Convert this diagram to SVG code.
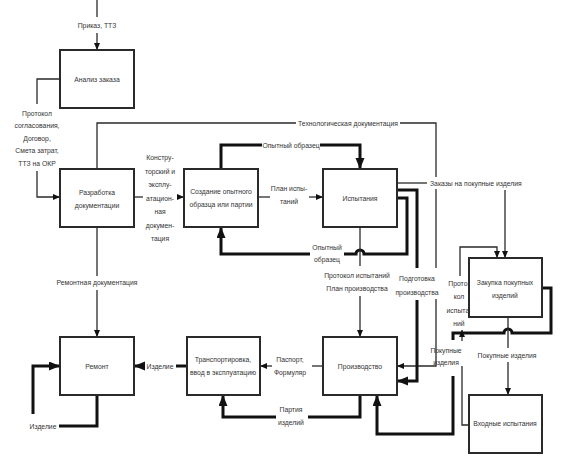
<svg xmlns="http://www.w3.org/2000/svg" width="567" height="457" viewBox="0 0 567 457">
<style>
.box{fill:#fff;stroke:#2a2a2a;stroke-width:2}
.t{font-family:"Liberation Sans",Arial,sans-serif;font-size:6.8px;fill:#333;text-anchor:middle}
.s{text-anchor:start}
.thin{fill:none;stroke:#2a2a2a;stroke-width:1.3}
.thick{fill:none;stroke:#111;stroke-width:3}
</style>
<defs>
<marker id="a" markerUnits="userSpaceOnUse" markerWidth="8" markerHeight="7" refX="7" refY="3" orient="auto"><path d="M0,0 L7,3 L0,6 z" fill="#111"/></marker>
<marker id="A" markerUnits="userSpaceOnUse" markerWidth="12" markerHeight="10" refX="11" refY="4.5" orient="auto"><path d="M0,0 L11,4.5 L0,9 z" fill="#111"/></marker>
</defs>
<rect width="567" height="457" fill="#fff"/>

<g id="connectors">
<path class="thin" d="M97,0 V17"/>
<text class="t" x="97" y="27.5">Приказ, ТТЗ</text>
<path class="thin" d="M97,33 V50" marker-end="url(#a)"/>

<path class="thin" d="M60,79 H37 V104"/>
<text class="t" x="37" y="115.5">Протокол</text>
<text class="t" x="37" y="128">согласования,</text>
<text class="t" x="37" y="140.5">Договор,</text>
<text class="t" x="37" y="153">Смета затрат,</text>
<text class="t" x="37" y="165.5">ТТЗ на ОКР</text>
<path class="thin" d="M37,171 V197 H60" marker-end="url(#a)"/>

<path class="thin" d="M97,169 V123 H296"/>
<text class="t" x="348" y="125.5">Технологическая документация</text>
<path class="thin" d="M400,123 H436 V177"/>
<path class="thin" d="M436,189 V268"/>
<path class="thin" d="M436,299 V366 H397" marker-end="url(#a)"/>

<path class="thin" d="M134,197 H143"/>
<text class="t" x="160" y="160">Констру-</text>
<text class="t" x="160" y="173.5">торский и</text>
<text class="t" x="160" y="187">эксплу-</text>
<text class="t" x="160" y="200.5">атацион-</text>
<text class="t" x="160" y="214">ная</text>
<text class="t" x="160" y="227.5">докумен-</text>
<text class="t" x="160" y="241">тация</text>
<path class="thin" d="M177,197 H184" marker-end="url(#a)"/>

<path class="thin" d="M258,197 H270"/>
<text class="t" x="289" y="191">План испы-</text>
<text class="t" x="289" y="204">таний</text>
<path class="thin" d="M309,197 H323" marker-end="url(#a)"/>

<path class="thick" d="M221,169 V145 H262"/>
<text class="t" x="291" y="147.5">Опытный образец</text>
<path class="thick" d="M320,145 H360 V169" marker-end="url(#A)"/>

<path class="thick" d="M397,198 H407 V254 H364 A4,4 0 0 0 356,254 H344"/>
<text class="t" x="327" y="250">Опытный</text>
<text class="t" x="327" y="262">образец</text>
<path class="thick" d="M310,254 H221 V227" marker-end="url(#A)"/>

<path class="thin" d="M360,227 V266"/>
<text class="t" x="357" y="277.5">Протокол испытаний</text>
<text class="t" x="357" y="290.5">План производства</text>
<path class="thin" d="M360,296 V337" marker-end="url(#a)"/>

<path class="thick" d="M397,190 H417 V268"/>
<text class="t" x="417" y="281">Подготовка</text>
<text class="t" x="417" y="294.5">производства</text>
<path class="thick" d="M417,300 V381 H397" marker-end="url(#A)"/>

<path class="thin" d="M397,183 H427"/>
<text class="t s" x="430" y="185.5">Заказы на покупные изделия</text>
<path class="thin" d="M505,190 V258" marker-end="url(#a)"/>

<path class="thin" d="M460,276 V247 H497 V258" marker-end="url(#a)"/>
<text class="t" x="459" y="285.5">Прото-</text>
<text class="t" x="459" y="299">кол</text>
<text class="t" x="459" y="312.5">испыта-</text>
<text class="t" x="459" y="326">ний</text>
<path class="thin" d="M462,341 V330" marker-end="url(#a)"/>
<path class="thin" d="M469,425 H462 V366"/>

<path class="thick" d="M542,288 H551 V333 H512 A4,4 0 0 0 504,333 H453 V340"/>
<text class="t" x="446" y="352.5">Покупные</text>
<text class="t" x="446" y="364.5">изделия</text>
<path class="thick" d="M453,376 V434 H377 V395" marker-end="url(#A)"/>

<path class="thin" d="M508,317 V348"/>
<text class="t" x="507" y="357.5">Покупные изделия</text>
<path class="thin" d="M508,362 V395" marker-end="url(#a)"/>

<path class="thin" d="M323,366 H312"/>
<text class="t" x="290" y="362">Паспорт,</text>
<text class="t" x="290" y="375">Формуляр</text>
<path class="thin" d="M272,366 H260" marker-end="url(#a)"/>

<path class="thick" d="M360,395 V417 H308"/>
<text class="t" x="291" y="412">Партия</text>
<text class="t" x="291" y="424.5">изделий</text>
<path class="thick" d="M276,417 H223 V395" marker-end="url(#A)"/>

<path class="thick" d="M187,366 H176"/>
<text class="t" x="160" y="368.5">Изделие</text>
<path class="thick" d="M145,366 H134" marker-end="url(#A)"/>

<path class="thick" d="M97,395 V426 H59"/>
<text class="t" x="43" y="428.5">Изделие</text>
<path class="thick" d="M33,414 V366 H60" marker-end="url(#A)"/>

<path class="thin" d="M97,227 V276"/>
<text class="t" x="97" y="284.5">Ремонтная документация</text>
<path class="thin" d="M97,290 V337" marker-end="url(#a)"/>
</g>

<g id="n1"><rect class="box" x="60" y="50" width="74" height="58"/><text class="t" x="97" y="81.5">Анализ заказа</text></g>
<g id="n2"><rect class="box" x="60" y="169" width="74" height="58"/><text class="t" x="97" y="194.5">Разработка</text><text class="t" x="97" y="207.5">документации</text></g>
<g id="n3"><rect class="box" x="184" y="169" width="74" height="58"/><text class="t" x="221" y="193.5">Создание опытного</text><text class="t" x="221" y="206.5">образца или партии</text></g>
<g id="n4"><rect class="box" x="323" y="169" width="74" height="58"/><text class="t" x="360" y="200.5">Испытания</text></g>
<g id="n5"><rect class="box" x="469" y="258" width="73" height="59"/><text class="t" x="505" y="284.5">Закупка покупных</text><text class="t" x="505" y="297.5">изделий</text></g>
<g id="n6"><rect class="box" x="469" y="395" width="73" height="58"/><text class="t" x="505" y="425.5">Входные испытания</text></g>
<g id="n7"><rect class="box" x="323" y="337" width="74" height="58"/><text class="t" x="360" y="368.5">Производство</text></g>
<g id="n8"><rect class="box" x="187" y="337" width="73" height="58"/><text class="t" x="223" y="361.5">Транспортировка,</text><text class="t" x="223" y="374.5">ввод в эксплуатацию</text></g>
<g id="n9"><rect class="box" x="60" y="337" width="74" height="58"/><text class="t" x="97" y="368.5">Ремонт</text></g>
</svg>
